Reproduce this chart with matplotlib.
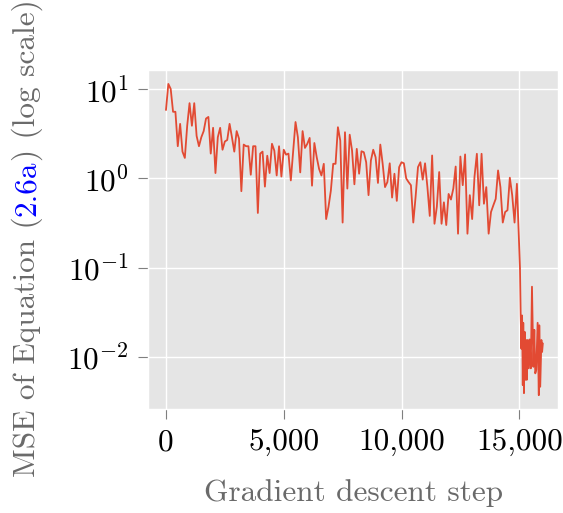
import matplotlib
matplotlib.use('Agg')
import matplotlib.pyplot as plt
from matplotlib.ticker import FuncFormatter, NullLocator
import numpy as np

# training log: MSE sampled every 100 steps up to 15,000, then denser
steps_main = list(range(0, 15000, 100))
mse_main = [5.9, 11.5, 10.1, 5.6, 5.6, 2.3, 4.1, 2.0, 1.7, 3.9,
            7.0, 3.9, 7.0, 3.0, 2.3, 2.9, 3.4, 4.7, 4.9, 1.9,
            3.7, 1.15, 2.9, 3.7, 2.1, 2.6, 2.7, 4.1, 2.9, 2.0,
            3.4, 2.8, 0.72, 2.4, 2.3, 2.3, 1.1, 2.3, 2.3, 0.41,
            1.9, 2.0, 0.81, 1.8, 1.15, 2.45, 2.05, 1.08, 2.3, 1.05,
            2.1, 1.85, 1.9, 0.95, 2.0, 4.3, 2.9, 1.17, 3.4, 2.2,
            2.45, 2.85, 0.83, 2.5, 1.73, 1.28, 1.08, 1.46, 0.35, 0.48,
            0.73, 1.46, 1.46, 3.76, 2.66, 0.32, 3.3, 0.77, 3.1, 2.06,
            0.86, 2.15, 1.13, 2.02, 1.97, 1.52, 0.65, 1.59, 2.1, 1.73,
            0.89, 2.4, 1.46, 0.80, 0.91, 1.48, 0.61, 1.13, 0.56, 1.34,
            1.52, 1.48, 1.0, 0.91, 0.84, 0.32, 0.63, 1.34, 1.52, 0.97,
            1.48, 0.80, 0.38, 1.81, 0.31, 0.48, 1.18, 0.31, 0.54, 0.30,
            0.67, 0.58, 0.77, 1.36, 0.24, 1.76, 0.84, 1.86, 0.24, 0.65,
            0.35, 1.05, 1.89, 0.50, 1.89, 0.52, 0.80, 0.24, 0.42, 0.50,
            0.59, 1.23, 0.80, 0.32, 0.42, 0.44, 1.02, 0.65, 0.32, 0.87]

steps_tail = [15030, 15060, 15090, 15120, 15150, 15170, 15200, 15230, 15260,
              15290, 15320, 15360, 15400, 15440, 15490, 15540, 15600, 15640,
              15680, 15720, 15780, 15830, 15850, 15890, 15940, 15970, 16000]
mse_tail = [0.10, 0.030, 0.0123, 0.029, 0.0048, 0.024, 0.0039, 0.019, 0.0055,
            0.0154, 0.0055, 0.0154, 0.0074, 0.0156, 0.0074, 0.061, 0.0077, 0.020,
            0.0065, 0.0071, 0.024, 0.0037, 0.0225, 0.0046, 0.0154, 0.0113, 0.014]

steps = steps_main + steps_tail
mse = mse_main + mse_tail

plt.style.use('ggplot')
plt.rcParams['font.family'] = 'serif'
plt.rcParams['font.serif'] = ['cmr10']
plt.rcParams['mathtext.fontset'] = 'cm'
plt.rcParams['axes.formatter.use_mathtext'] = True
plt.rcParams['axes.unicode_minus'] = False

fs = 22.5

fig = plt.figure(figsize=(5.63, 5.13), dpi=100)
ax = fig.add_axes([148 / 563, 1 - 409 / 513, 410 / 563, 339 / 513])

ax.plot(steps, mse, color='#E24A33', linewidth=1.3)

ax.set_yscale('log')
ax.set_xlim(-764, 16645)
ax.set_ylim(10 ** -2.587, 10 ** 1.217)
ax.set_yticks([1e-2, 1e-1, 1, 10])
ax.yaxis.set_minor_locator(NullLocator())
ax.set_xticks([0, 5000, 10000, 15000])
ax.xaxis.set_major_formatter(FuncFormatter(lambda v, p: f'{v:,.0f}'))

ax.tick_params(axis='both', which='major', length=7, width=0.8, color='#7f7f7f',
               labelcolor='black', labelsize=fs, direction='out', pad=7)
ax.grid(True, color='white', linewidth=1.0)

ax.set_xlabel('Gradient descent step', fontsize=fs, color='#6a6a6a', labelpad=16)

# y label in three pieces so the equation number can be blue
gray = '#6a6a6a'
t1 = fig.text(27 / 563, 1 - 477 / 513, 'MSE of Equation (', rotation=90,
              ha='center', va='bottom', fontsize=fs, color=gray)
t2 = ax.annotate('2.6a', xy=(0.5, 1), xycoords=t1, rotation=90,
                 ha='center', va='bottom', fontsize=fs, color='#0000ff',
                 annotation_clip=False)
t3 = ax.annotate(') (log scale)', xy=(0.5, 1), xycoords=t2, rotation=90,
                 ha='center', va='bottom', fontsize=fs, color=gray,
                 annotation_clip=False)

fig.savefig('out.png', dpi=100)
